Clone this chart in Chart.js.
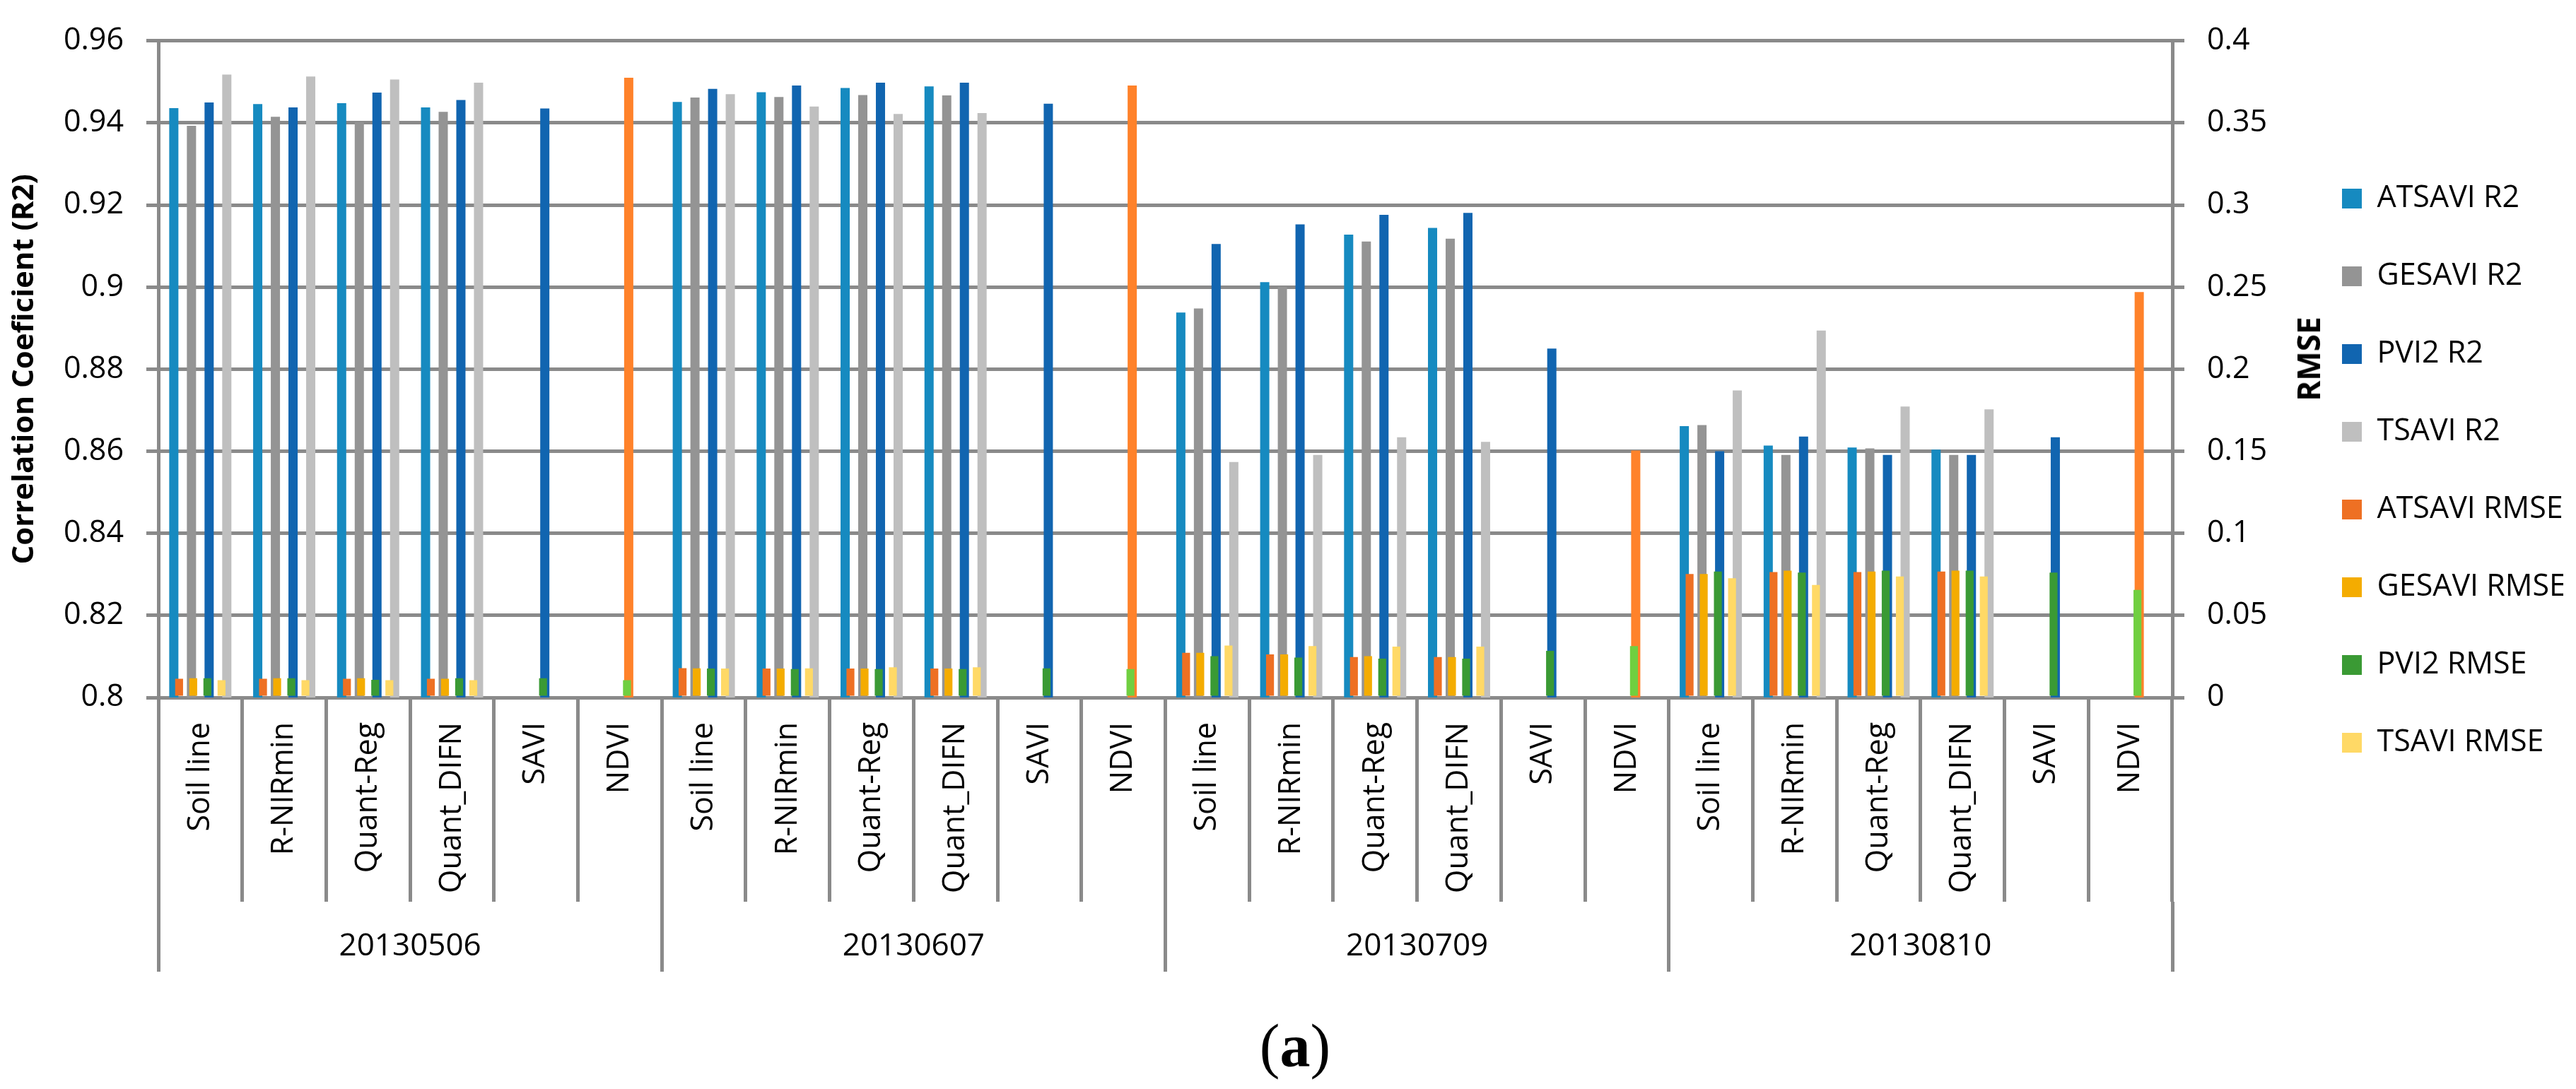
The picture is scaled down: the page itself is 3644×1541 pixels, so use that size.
<!DOCTYPE html>
<html>
<head>
<meta charset="utf-8">
<script src="https://cdn.jsdelivr.net/npm/chart.js@4.4.1/dist/chart.umd.min.js"></script>
<style>
  html, body { margin: 0; padding: 0; background: #fff; }
  #wrap { position: relative; width: 3644px; height: 1541px; overflow: hidden; }
  #chart { position: absolute; left: 0; top: 0; }
  #rmseTitle {
    position: absolute; left: 3265px; top: 508px;
    transform: translate(-50%, -50%) rotate(-90deg);
    font: bold 44px 'Open Sans', sans-serif; line-height: 1; white-space: nowrap; color: #000;
  }
  #caption {
    position: absolute; left: 1832px; top: 1437px; transform: translateX(-50%);
    font: 86px 'Liberation Serif', 'DejaVu Serif', serif; line-height: 1; white-space: nowrap; color: #000;
  }
</style>
</head>
<body>
<div id="wrap">
  <canvas id="chart" width="3644" height="1541"></canvas>
  <div id="rmseTitle">RMSE</div>
  <div id="caption">(<b>a</b>)</div>
</div>
<script>
// categories
const methods = ['Soil line', 'R-NIRmin', 'Quant-Reg', 'Quant_DIFN', 'SAVI', 'NDVI'];
const dates = ['20130506', '20130607', '20130709', '20130810'];
const categories = dates.flatMap(() => methods);

// R2 series (left axis), one value per category
const atsaviR2 = [0.9436, 0.9446, 0.9448, 0.9438, null, null,
                  0.9451, 0.9475, 0.9485, 0.9489, null, null,
                  0.8938, 0.9012, 0.9128, 0.9144, null, null,
                  0.8661, 0.8614, 0.8609, 0.8604, null, null];
const gesaviR2 = [0.9393, 0.9415, 0.9402, 0.9427, null, null,
                  0.9462, 0.9463, 0.9468, 0.9467, null, null,
                  0.8948, 0.9001, 0.9111, 0.9118, null, null,
                  0.8664, 0.8591, 0.8607, 0.8591, null, null];
const pvi2R2 = [0.9450, 0.9438, 0.9474, 0.9456, 0.9435, 0.9510,
                0.9483, 0.9491, 0.9498, 0.9498, 0.9447, 0.9491,
                0.9105, 0.9153, 0.9176, 0.9181, 0.8850, 0.8602,
                0.8600, 0.8636, 0.8591, 0.8591, 0.8634, 0.8988];
const tsaviR2 = [0.9518, 0.9513, 0.9506, 0.9498, null, null,
                 0.9470, 0.9440, 0.9422, 0.9424, null, null,
                 0.8574, 0.8591, 0.8634, 0.8623, null, null,
                 0.8748, 0.8894, 0.8709, 0.8702, null, null];

// RMSE series (right axis)
const atsaviRmse = [0.0114, 0.0114, 0.0114, 0.0114, null, null,
                    0.0179, 0.0176, 0.0176, 0.0176, null, null,
                    0.0272, 0.0263, 0.0246, 0.0246, null, null,
                    0.0752, 0.0764, 0.0764, 0.0767, null, null];
const gesaviRmse = [0.0117, 0.0117, 0.0117, 0.0114, null, null,
                    0.0178, 0.0176, 0.0176, 0.0176, null, null,
                    0.0272, 0.0263, 0.0252, 0.0246, null, null,
                    0.0752, 0.0773, 0.0767, 0.0773, null, null];
const pvi2Rmse = [0.0117, 0.0117, 0.0108, 0.0117, 0.0117, 0.0105,
                  0.0176, 0.0173, 0.0173, 0.0173, 0.0178, 0.0173,
                  0.0252, 0.0243, 0.0237, 0.0237, 0.0284, 0.0313,
                  0.0767, 0.0761, 0.0773, 0.0773, 0.0761, 0.0655];
const tsaviRmse = [0.0105, 0.0105, 0.0105, 0.0105, null, null,
                   0.0176, 0.0178, 0.0184, 0.0184, null, null,
                   0.0316, 0.0313, 0.0310, 0.0310, null, null,
                   0.0726, 0.0685, 0.0737, 0.0737, null, null];

// axis ticks
const r2Ticks = { min: 0.8, max: 0.96, step: 0.02 };
const rmseTicks = { min: 0, max: 0.4, step: 0.05 };

const GRID = '#8a8a8a';
const fmt = v => String(+(+v).toFixed(2));
const isNdvi = ctx => ctx.type === 'data' && categories[ctx.dataIndex] === 'NDVI';

// RMSE bars get their own controller type so they are grouped apart from the R2 bars
// (same x axis, so they overlap the R2 bars like the secondary series in the original)
class RmseBarController extends Chart.BarController {}
RmseBarController.id = 'rmseBar';
RmseBarController.defaults = Chart.BarController.defaults;
RmseBarController.overrides = Chart.BarController.overrides;
Chart.register(RmseBarController);

function r2Set(label, data, color) {
  return { type: 'bar', label, data, backgroundColor: color, borderWidth: 0, xAxisID: 'x', yAxisID: 'y',
           order: 1, categoryPercentage: 0.842, barPercentage: 0.52 };
}
function rmseSet(label, data, color) {
  return { type: 'rmseBar', label, data, backgroundColor: color, borderWidth: 0, xAxisID: 'x', yAxisID: 'y2',
           order: 0, categoryPercentage: 0.674, barPercentage: 0.56 };
}

Chart.defaults.font.family = "'Open Sans', 'Noto Sans', sans-serif";
Chart.defaults.color = '#000';

new Chart(document.getElementById('chart'), {
  type: 'bar',
  data: {
    labels: categories,
    datasets: [
      r2Set('ATSAVI R2', atsaviR2, '#168AC0'),
      r2Set('GESAVI R2', gesaviR2, '#949494'),
      r2Set('PVI2 R2', pvi2R2, ctx => isNdvi(ctx) ? '#FF822A' : '#1165B0'),
      r2Set('TSAVI R2', tsaviR2, '#BFBFBF'),
      rmseSet('ATSAVI RMSE', atsaviRmse, '#EE7023'),
      rmseSet('GESAVI RMSE', gesaviRmse, '#F4AC00'),
      rmseSet('PVI2 RMSE', pvi2Rmse, ctx => isNdvi(ctx) ? '#70CF40' : '#3A9A34'),
      rmseSet('TSAVI RMSE', tsaviRmse, '#FFD966')
    ]
  },
  options: {
    responsive: false,
    devicePixelRatio: 1,
    animation: false,
    events: [],
    layout: { padding: { top: 28, left: 0, right: 18, bottom: 166 } },
    plugins: {
      tooltip: { enabled: false },
      legend: {
        position: 'right',
        align: 'start',
        maxWidth: 380,
        title: { display: true, text: ' ', font: { size: 10, lineHeight: 1 }, padding: { top: 154.5, bottom: 0 } },
        labels: {
          boxWidth: 28, boxHeight: 28, padding: 67, color: '#000',
          font: { size: 43 },
          sort: (a, b) => a.datasetIndex - b.datasetIndex
        }
      }
    },
    scales: {
      x: {
        type: 'category', position: 'bottom', weight: 0, offset: true,
        grid: { offset: true, drawOnChartArea: false, drawTicks: true, tickLength: 289, color: GRID, lineWidth: 5 },
        border: { display: true, color: GRID, width: 5 },
        ticks: { autoSkip: false, minRotation: 90, maxRotation: 90, padding: -254, font: { size: 43 }, color: '#000' },
        afterFit: s => { s.height = 289; }
      },
      xg: {
        type: 'category', labels: dates, position: 'bottom', weight: 2, offset: true,
        grid: { offset: true, drawOnChartArea: false, drawTicks: true, tickLength: 99, color: GRID, lineWidth: 5 },
        border: { display: false },
        ticks: { autoSkip: false, minRotation: 0, maxRotation: 0, padding: -62, font: { size: 44 }, color: '#000' },
        afterFit: s => { s.height = 99; }
      },
      y: {
        position: 'left', min: r2Ticks.min, max: r2Ticks.max,
        ticks: { stepSize: r2Ticks.step, padding: 32, font: { size: 43 }, color: '#000', callback: fmt },
        grid: { color: GRID, lineWidth: 5, tickLength: 17 },
        border: { display: true, color: GRID, width: 5 },
        title: { display: true, text: 'Correlation Coeficient (R2)', color: '#000',
                 font: { size: 42, weight: 'bold' }, padding: { top: 10, bottom: 0 } },
        afterFit: s => { s.width = 224; }
      },
      y2: {
        position: 'right', min: rmseTicks.min, max: rmseTicks.max,
        ticks: { stepSize: rmseTicks.step, padding: 32, font: { size: 43 }, color: '#000', callback: fmt },
        grid: { drawOnChartArea: false, color: GRID, lineWidth: 5, tickLength: 17 },
        border: { display: true, color: GRID, width: 5 },
        afterFit: s => { s.width = 173; }
      }
    }
  }
});
</script>
</body>
</html>
